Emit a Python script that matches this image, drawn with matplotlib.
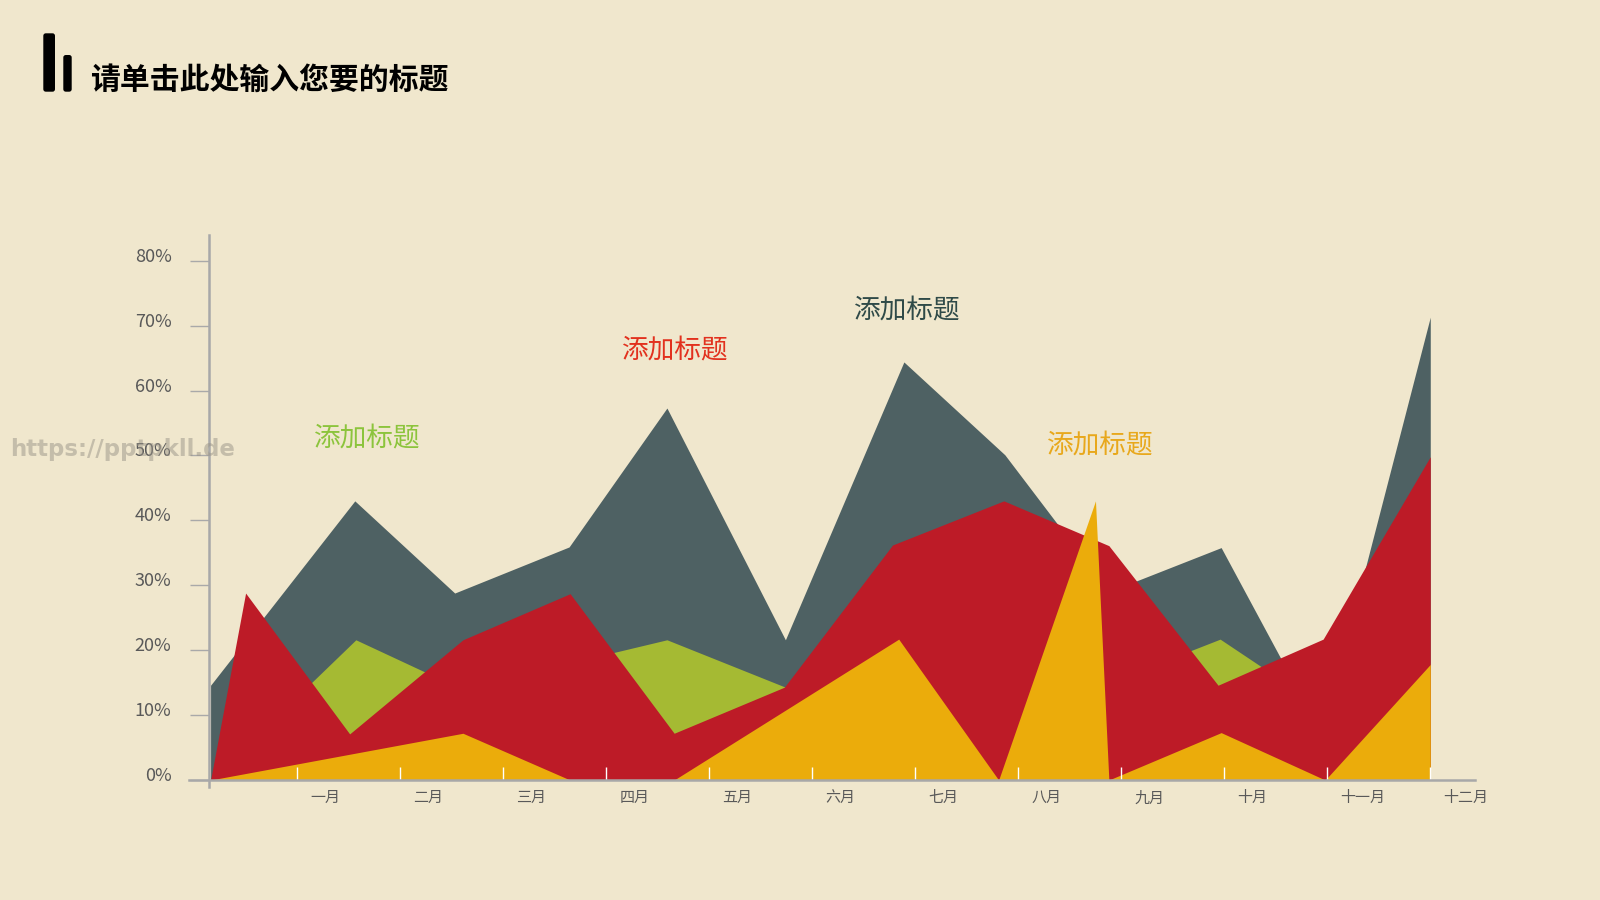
import matplotlib
matplotlib.use('Agg')
import matplotlib.pyplot as plt
from matplotlib.patches import FancyBboxPatch
from matplotlib.transforms import ScaledTranslation, IdentityTransform

plt.rcParams['font.family'] = ['Noto Sans CJK SC', 'DejaVu Sans']

# data (x in month-tick units, y in %)
gray_x = [0.16, 1.56, 2.53, 3.64, 4.59, 5.74, 6.89, 7.87, 8.88, 9.97, 10.95, 12.0]
gray_y = [14.6, 43.0, 28.8, 35.9, 57.3, 21.6, 64.4, 50.1, 29.0, 35.8, 6.9, 71.3]

green_x = [0.16, 1.57, 2.53, 3.64, 4.59, 5.74, 6.89, 7.87, 8.88, 9.96, 10.95, 12.0]
green_y = [0, 21.6, 14.5, 18.0, 21.6, 14.3, 25.0, 20.0, 15.0, 21.7, 11.2, 18.0]

red_x = [0.16, 0.50, 1.51, 2.61, 3.65, 4.66, 5.73, 6.78, 7.86, 8.88, 9.94, 10.96, 12.0]
red_y = [0, 28.8, 7.1, 21.6, 28.7, 7.2, 14.3, 36.2, 43.0, 36.1, 14.6, 21.7, 49.8]

yellow_x = [0.16, 2.61, 3.65, 4.66, 6.84, 7.81, 8.75, 8.88, 9.97, 10.98, 12.0]
yellow_y = [0, 7.2, 0, 0, 21.7, 0, 43.0, 0, 7.3, 0, 17.8]

months = ['一月', '二月', '三月', '四月', '五月', '六月',
          '七月', '八月', '九月', '十月', '十一月', '十二月']
month_pos = list(range(1, 13))
y_ticks = [0, 10, 20, 30, 40, 50, 60, 70, 80]

bg = '#f0e7cd'
c_gray = '#4e6163'
c_green = '#a5ba33'
c_red = '#bd1b27'
c_yellow = '#ebac0b'

W, H = 1600, 900
fig = plt.figure(figsize=(16, 9), dpi=100, facecolor=bg)
ax = fig.add_axes([0.1179, 0.1254, 0.8037, 0.6138])
ax.set_facecolor('none')

ax.fill_between(gray_x, gray_y, 0, color=c_gray, lw=0)
ax.fill_between(green_x, green_y, 0, color=c_green, lw=0)
ax.fill_between(red_x, red_y, 0, color=c_red, lw=0)
ax.fill_between(yellow_x, yellow_y, 0, color=c_yellow, lw=0)

ax.set_xlim(-0.053, 12.43)
ax.set_ylim(-1.1, 84)

ax.spines['top'].set_visible(False)
ax.spines['right'].set_visible(False)
ax.spines['left'].set_position(('data', 0.145))
ax.spines['bottom'].set_position(('data', 0))
for s in ['left', 'bottom']:
    ax.spines[s].set_color('#a8a8a8')
    ax.spines[s].set_linewidth(1.8)

ax.set_yticks(y_ticks, [f'{v}%' for v in y_ticks])
ax.tick_params(axis='y', direction='out', length=14, width=1.0, color='#a9a9a9',
               pad=13, labelsize=13, labelcolor='#595959')
up = ScaledTranslation(0, 0.06, fig.dpi_scale_trans)
for lab in ax.get_yticklabels():
    lab.set_transform(lab.get_transform() + up)

ax.set_xticks(month_pos, months)
ax.tick_params(axis='x', direction='in', length=9.5, width=1, color='white',
               pad=8, labelsize=10.8, labelcolor='#595959')
offset = ScaledTranslation(0.133, 0, fig.dpi_scale_trans)
for lab in ax.get_xticklabels():
    lab.set_horizontalalignment('left')
    lab.set_transform(lab.get_transform() + offset)

# title with bar icon
for (x0, y0, x1, y1) in [(43.3, 33.3, 55.0, 91.7), (63.3, 55.0, 71.7, 91.7)]:
    fig.add_artist(FancyBboxPatch((x0, H - y1), x1 - x0, y1 - y0,
                                  boxstyle='round,pad=0,rounding_size=2.5',
                                  transform=IdentityTransform(),
                                  facecolor='black', edgecolor='none'))
fig.text(89.8 / W, 1 - 79.5 / H, '请单击此处输入您要的标题', fontsize=21.5,
         fontweight='bold', color='black', va='center', ha='left')

# series captions
captions = [('添加标题', 367.3, 438.8, '#8cc43c'),
            ('添加标题', 675.5, 351.0, '#e2311e'),
            ('添加标题', 907.3, 311.0, '#2f4a48'),
            ('添加标题', 1100.0, 446.0, '#e8a81c')]
for txt, px, py, col in captions:
    fig.text(px / W, 1 - py / H, txt, fontsize=19.2, color=col,
             ha='center', va='center')

# watermark
fig.text(10 / W, 1 - 449 / H, 'https://pptpkll.de', fontsize=16.5,
         fontweight='bold', family='DejaVu Sans', color='#9a9488', alpha=0.5,
         ha='left', va='center')

fig.savefig('out.png', dpi=100, facecolor=bg)
